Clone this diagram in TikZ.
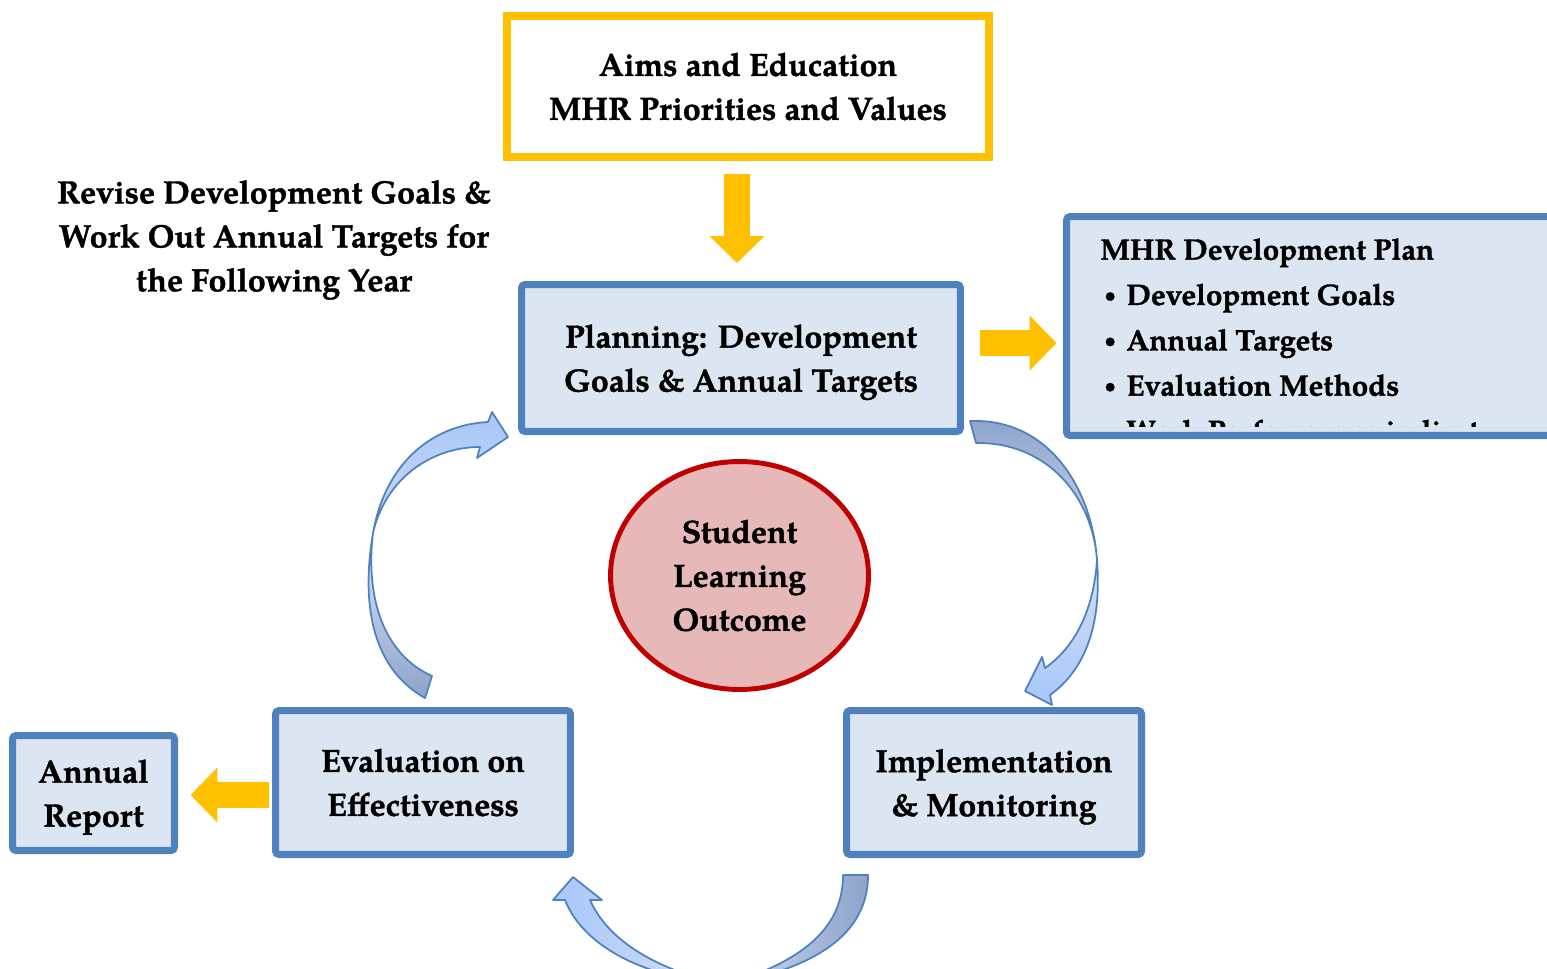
\documentclass[tikz,border=0pt]{standalone}
\usepackage{fontspec}
\setmainfont{TeX Gyre Pagella}[BoldFeatures={FakeBold=1.2}]
\usetikzlibrary{arrows.meta,shapes.geometric,shadows}
\usepackage{xcolor}

\definecolor{boxblue}{HTML}{4F81BD}
\definecolor{boxfill}{HTML}{DCE6F2}
\definecolor{gold}{HTML}{FFC000}
\definecolor{slored}{HTML}{C00000}
\definecolor{slofill}{HTML}{E6B9B8}
\definecolor{cyctail}{HTML}{8DA3CB}
\definecolor{cycmid}{HTML}{D3DFF2}
\definecolor{cychead}{HTML}{A7C7F9}

\newcommand{\planitem}{\makebox[0.52cm][l]{\hspace{0.08cm}\raisebox{0.12em}{\fontsize{11}{11}\selectfont\textbullet}}}
\newcommand{\nodepth}[1]{\raisebox{0pt}[\height][0pt]{#1}}

\begin{document}
\begin{tikzpicture}[
        x=0.02cm, y=-0.02cm,
        font=\fontsize{18.3}{25}\selectfont\bfseries,
        box/.style={draw=boxblue, fill=boxfill, line width=4pt, rounded corners=2pt,
            align=center, inner sep=0pt,
            drop shadow={opacity=0.2, shadow xshift=0.04cm, shadow yshift=-0.05cm}},
        yarrow/.style={draw=gold, line width=0.53cm, -{Triangle[width=1.07cm, length=0.54cm]}},
        cyc/.style={draw=boxblue, line width=1pt, line join=round}
    ]

    \path[use as bounding box] (0,0) rectangle (1547,968);
    \clip (0,0) rectangle (1547,968);

    % Цели и приоритеты
    \node[draw=gold, fill=white, line width=4.5pt, align=center, inner sep=0pt,
        minimum width=9.64cm, minimum height=2.82cm] (aims) at (748,86.5)
        {Aims and Education\\MHR Priorities and Values};

    % Планирование
    \node[box, minimum width=8.78cm, minimum height=2.94cm] (plan) at (741,358)
        {Planning: Development\\\nodepth{Goals \& Annual Targets}};

    % План развития (обрезан справа)
    \node[box, minimum width=9.9cm, minimum height=4.38cm] (devplan) at (1314,326) {};
    \begin{scope}
        \clip (1070,220) rectangle (1485,426);
        \node[anchor=north west, align=left, inner sep=0pt,
            font=\fontsize{16.8}{25.8}\selectfont\bfseries] (plist) at (1100,238)
            {MHR Development Plan\\
             \planitem Development Goals\\
             \planitem Annual Targets\\
             \planitem Evaluation Methods\\
             \planitem Work Performance indicators};
    \end{scope}

    % Подпись слева
    \node[align=center] (revise) at (274,240)
        {Revise Development Goals \&\\Work Out Annual Targets for\\the Following Year};

    % Центр цикла
    \node[ellipse, draw=slored, fill=slofill, line width=2.8pt, align=center, inner sep=0pt,
        minimum width=5.16cm, minimum height=4.56cm] (slo) at (739.5,575.5)
        {Student\\Learning\\Outcome};

    % Нижние блоки
    \node[box, minimum width=5.9cm, minimum height=2.88cm] (eval) at (423,782.5)
        {Evaluation on\\Effectiveness};
    \node[box, minimum width=5.9cm, minimum height=2.88cm] (impl) at (994,782.5)
        {Implementation\\\nodepth{\& Monitoring}};
    \node[box, minimum width=3.24cm, minimum height=2.3cm] (report) at (93.5,793)
        {Annual\\\nodepth{Report}};

    % Жёлтые стрелки
    \draw[yarrow] ([yshift=-0.26cm]737,0 |- aims.south) -- ([yshift=0.36cm]737,0 |- plan.north);
    \draw[yarrow] ([xshift=0.33cm]plan.east |- 0,343) -- ([xshift=-0.13cm]devplan.west |- 0,343);
    \draw[yarrow] ([xshift=-0.07cm]eval.west |- 0,795) -- ([xshift=0.25cm]report.east |- 0,795);

    % Стрелки цикла
    \draw[cyc, top color=cyctail, bottom color=cychead, middle color=cycmid]
        (970,421) .. controls (1050,418) and (1092,490) .. (1097,560)
        .. controls (1102,625) and (1085,670) .. (1050,695)
        -- (1052,705) -- (1025,691) -- (1042,657) -- (1045,668)
        .. controls (1078,645) and (1094,605) .. (1097,560)
        .. controls (1093,500) and (1050,442) .. (976,443) -- cycle;
    \draw[cyc, left color=cychead, right color=cyctail, middle color=cycmid]
        (868,875) .. controls (868,935) and (815,968) .. (725,985)
        .. controls (650,978) and (585,950) .. (565,900)
        -- (553,900) -- (573,877) -- (602,900) -- (590,900)
        .. controls (610,945) and (665,972) .. (725,985)
        .. controls (800,962) and (843,930) .. (843,875) -- cycle;
    \draw[cyc, top color=cychead, bottom color=cyctail, middle color=cycmid]
        (425,698) .. controls (375,670) and (360,610) .. (373,533)
        .. controls (385,465) and (430,425) .. (488,422)
        -- (492,412) -- (508,437) -- (477,458) -- (480,447)
        .. controls (430,447) and (385,480) .. (373,533)
        .. controls (365,600) and (385,655) .. (432,676) -- cycle;

\end{tikzpicture}
\end{document}
